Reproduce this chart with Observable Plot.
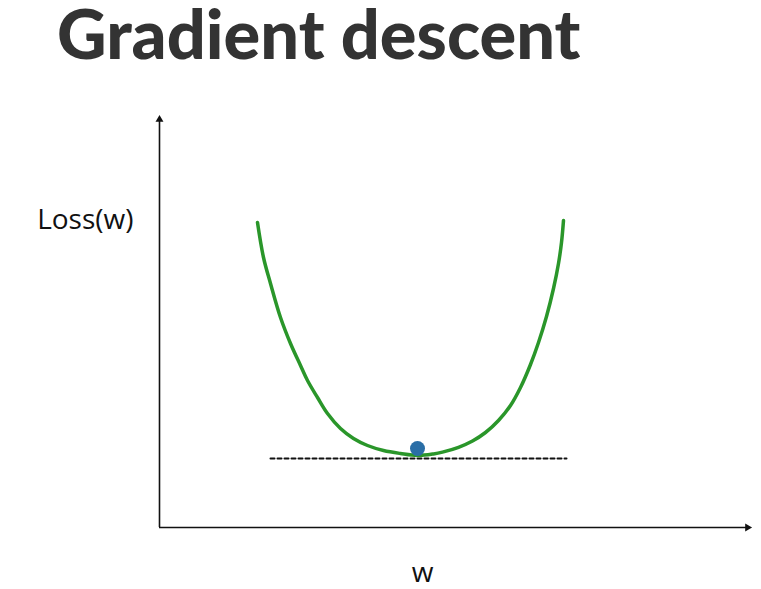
<!DOCTYPE html>
<html>
<head>
<meta charset="utf-8">
<script src="https://cdn.jsdelivr.net/npm/d3@7"></script>
<script src="https://cdn.jsdelivr.net/npm/@observablehq/plot@0.6"></script>
<style>
  html, body { margin: 0; padding: 0; background: #fff; }
  #wrap { width: 761px; height: 589px; position: relative; }
  #title { height: 80px; margin: 0; padding: 0; font-family: Lato, "Open Sans", sans-serif; font-weight: 900;
           font-size: 68.5px; color: #333; position: relative; }
  #title span { display: block; position: absolute; left: 57px; top: -9px; line-height: normal; white-space: nowrap; }
</style>
</head>
<body>
<div id="wrap">
  <div id="title"><span>Gradient descent</span></div>
  <div id="chart"></div>
</div>
<script>
// Loss curve (w, Loss(w))
const curveW = [-1.60,-1.54,-1.47,-1.37,-1.27,-1.17,-1.10,-1.00,-0.90,-0.77,-0.64,-0.50,-0.34,-0.17,0.00,
                0.16,0.25,0.41,0.55,0.68,0.81,0.93,1.03,1.13,1.21,1.29,1.36,1.41,1.44,1.46];
const curveLoss = [2.33,1.98,1.72,1.38,1.12,0.90,0.75,0.58,0.42,0.27,0.17,0.10,0.05,0.02,0.00,
                   0.016,0.034,0.082,0.145,0.23,0.35,0.50,0.68,0.91,1.13,1.39,1.67,1.92,2.13,2.35];
// current point (ball)
const pointW = [0.00];
const pointLoss = [0.07];
// tangent (dashed) line
const tangentW = [-1.47, 1.49];
const tangentLoss = [-0.03, -0.03];
// axis extents
const wDomain = [-2.58, 3.35];
const lossDomain = [-0.72, 3.42];
// axis labels
const yLabel = "Loss(w)";
const xLabel = "w";
const yLabelPos = {w: -2.84, loss: 2.35};
const xLabelPos = {w: 0.05, loss: -1.18};

const curve = curveW.map((w, i) => ({w, loss: curveLoss[i]}));
const ball = pointW.map((w, i) => ({w, loss: pointLoss[i]}));
const tangent = tangentW.map((w, i) => ({w, loss: tangentLoss[i]}));

const labelFont = "'Open Sans', Lato, sans-serif";

const chart = Plot.plot({
  width: 761,
  height: 509,
  marginLeft: 159,
  marginRight: 9,
  marginTop: 33,
  marginBottom: 62,
  x: {domain: wDomain, axis: null},
  y: {domain: lossDomain, axis: null},
  marks: [
    // axes
    Plot.ruleY([lossDomain[0]], {x1: wDomain[0], x2: wDomain[1] - 0.05, stroke: "#111", strokeWidth: 1.6}),
    Plot.ruleX([wDomain[0]], {y1: lossDomain[0], y2: lossDomain[1] - 0.06, stroke: "#111", strokeWidth: 1.6}),
    Plot.dot([{w: wDomain[1] - 0.05, loss: lossDomain[0]}], {x: "w", y: "loss", symbol: "triangle2", r: 3.8, fill: "#111", rotate: 90}),
    Plot.dot([{w: wDomain[0], loss: lossDomain[1] - 0.06}], {x: "w", y: "loss", symbol: "triangle2", r: 3.8, fill: "#111"}),
    // tangent line
    Plot.line(tangent, {x: "w", y: "loss", stroke: "#111", strokeWidth: 2, strokeDasharray: "4,3"}),
    // loss curve
    Plot.line(curve, {x: "w", y: "loss", stroke: "#2a962a", strokeWidth: 3.5, curve: "catmull-rom"}),
    // ball
    Plot.dot(ball, {x: "w", y: "loss", r: 7.5, fill: "#2a6ea6"}),
    // labels
    Plot.text([yLabelPos], {x: "w", y: "loss", text: () => yLabel, textAnchor: "end", fontSize: 28, fill: "#111", fontFamily: labelFont}),
    Plot.text([xLabelPos], {x: "w", y: "loss", text: () => xLabel, textAnchor: "middle", fontSize: 28, fill: "#111", fontFamily: labelFont})
  ]
});
document.getElementById("chart").appendChild(chart);
</script>
</body>
</html>
